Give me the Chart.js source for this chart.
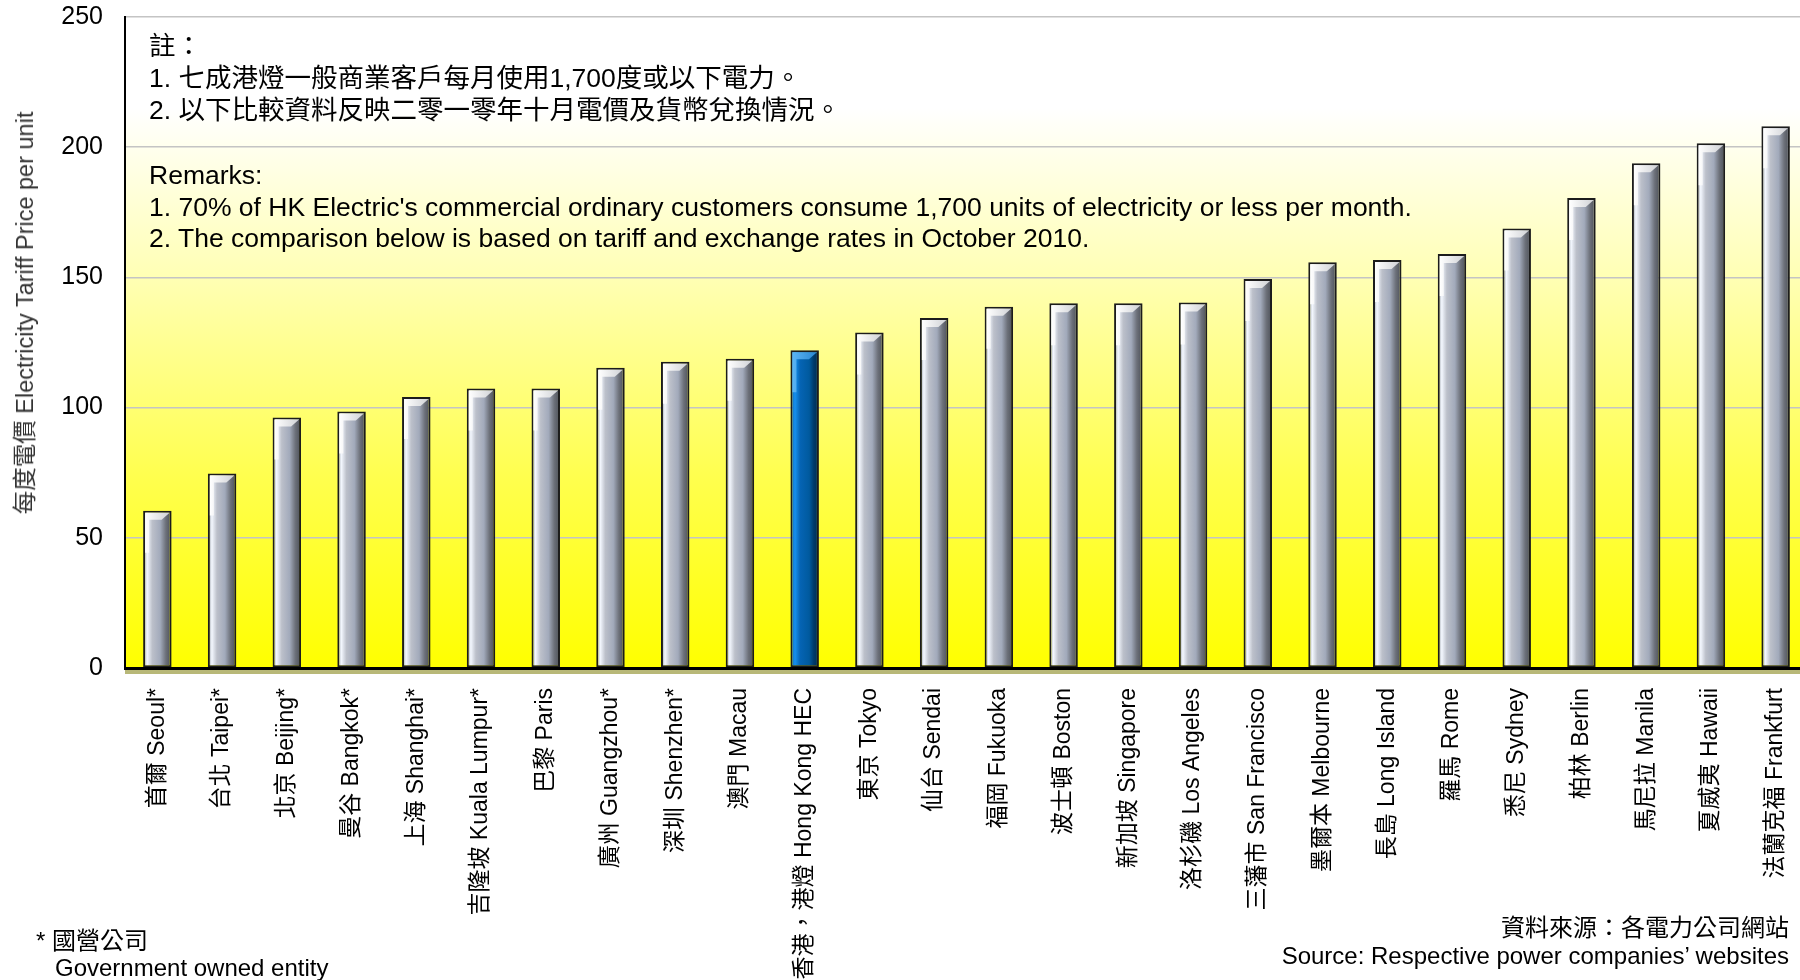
<!DOCTYPE html>
<html>
<head>
<meta charset="utf-8">
<script src="https://cdn.jsdelivr.net/npm/chart.js@4.4.0/dist/chart.umd.min.js"></script>
<style>
  body { margin: 0; width: 1800px; height: 980px; overflow: hidden; position: relative; background: #fff;
         font-family: "Liberation Sans", Arial, "Noto Sans CJK TC", sans-serif; }
  #wrap { position: absolute; left: 0; top: 0; width: 1808px; height: 980px; }
  .txt { position: absolute; white-space: nowrap; line-height: 30px; font-size: 26.5px; color: #000; }
  .foot { font-size: 24px; }
  #yTitle { position: absolute; left: 25px; top: 313px; transform: translate(-50%, -50%) rotate(-90deg);
            white-space: nowrap; font-size: 23.5px; line-height: 28px; color: #333; }
</style>
</head>
<body>
<div id="wrap"><canvas id="tariffChart"></canvas></div>

<div id="yTitle"></div>

<div class="txt" style="left:149px; top:31px;">註：</div>
<div class="txt" style="left:149px; top:63px;">1. 七成港燈一般商業客戶每月使用1,700度或以下電力。</div>
<div class="txt" style="left:149px; top:95px;">2. 以下比較資料反映二零一零年十月電價及貨幣兌換情況。</div>
<div class="txt" style="left:149px; top:160px;">Remarks:</div>
<div class="txt" style="left:149px; top:192px;">1. 70% of HK Electric's commercial ordinary customers consume 1,700 units of electricity or less per month.</div>
<div class="txt" style="left:149px; top:223px;">2. The comparison below is based on tariff and exchange rates in October 2010.</div>

<div class="txt foot" style="left:36px; top:926px;">* 國營公司</div>
<div class="txt foot" style="left:55px; top:953px;">Government owned entity</div>
<div class="txt foot" style="right:11px; top:913px;">資料來源：各電力公司網站</div>
<div class="txt foot" style="right:11px; top:941px;">Source: Respective power companies’ websites</div>

<script>
// chart data
const cities = [
    '首爾 Seoul*', '台北 Taipei*', '北京 Beijing*', '曼谷 Bangkok*', '上海 Shanghai*',
    '吉隆坡 Kuala Lumpur*', '巴黎 Paris', '廣州 Guangzhou*', '深圳 Shenzhen*', '澳門 Macau',
    '香港，港燈 Hong Kong HEC', '東京 Tokyo', '仙台 Sendai', '福岡 Fukuoka', '波士頓 Boston',
    '新加坡 Singapore', '洛杉磯 Los Angeles', '三藩市 San Francisco', '墨爾本 Melbourne', '長島 Long Island',
    '羅馬 Rome', '悉尼 Sydney', '柏林 Berlin', '馬尼拉 Manila', '夏威夷 Hawaii', '法蘭克福 Frankfurt'
];
const tariffs = [
    60.4, 74.7, 96.2, 98.5, 104.1,
    107.3, 107.3, 115.3, 117.6, 118.8,
    122.0, 128.8, 134.4, 138.7, 140.1,
    140.1, 140.4, 149.4, 155.8, 156.7,
    159.0, 168.8, 180.5, 193.8, 201.5, 208.0
];
const highlightCity = '香港，港燈 Hong Kong HEC';
const yTicks = [0, 50, 100, 150, 200, 250];
const yTitle = '每度電價 Electricity Tariff Price per unit';

document.getElementById('yTitle').textContent = yTitle;

const BAR_FRACTION = 0.44;
const greyStops = [[0, '#8a9098'], [0.14, '#f4f8ff'], [0.32, '#bcc0ca'], [0.6, '#a2aabb'], [0.8, '#6c7079'], [1, '#4a4e56']];
const blueStops = [[0, '#0a5fa8'], [0.16, '#1690ee'], [0.34, '#0564b4'], [0.66, '#005a9e'], [0.82, '#003a6a'], [1, '#002a4e']];

function isHighlight(i) {
    return cities[i] === highlightCity;
}

function barFill(context) {
    const chart = context.chart;
    const xs = chart.scales.x;
    if (!chart.chartArea || !xs) return '#a8b0bc';
    const i = context.dataIndex;
    const cx = xs.getPixelForValue(i);
    const w = (xs.getPixelForValue(1) - xs.getPixelForValue(0)) * BAR_FRACTION;
    const g = chart.ctx.createLinearGradient(cx - w / 2, 0, cx + w / 2, 0);
    const stops = isHighlight(i) ? blueStops : greyStops;
    stops.forEach(function(s) { g.addColorStop(s[0], s[1]); });
    return g;
}

// yellow fade behind the bars and the olive floor under the axis
const plotBackground = {
    id: 'plotBackground',
    beforeDraw(chart) {
        const ctx = chart.ctx, a = chart.chartArea;
        const g = ctx.createLinearGradient(0, a.top, 0, a.bottom);
        g.addColorStop(0, '#ffffff');
        g.addColorStop(0.14, '#ffffff');
        g.addColorStop(0.4, '#ffffb4');
        g.addColorStop(0.7, '#ffff50');
        g.addColorStop(1, '#ffff00');
        ctx.save();
        ctx.fillStyle = g;
        ctx.fillRect(a.left, a.top, a.right - a.left, a.bottom - a.top);
        ctx.restore();
    },
    afterDraw(chart) {
        const ctx = chart.ctx, a = chart.chartArea;
        ctx.save();
        ctx.fillStyle = '#b8b878';
        ctx.fillRect(a.left, a.bottom + 2, a.right - a.left, 4);
        ctx.restore();
    }
};

// light bevel on the top of every bar, placed from the bar elements
const barBevel = {
    id: 'barBevel',
    afterDatasetsDraw(chart) {
        const ctx = chart.ctx;
        const meta = chart.getDatasetMeta(0);
        ctx.save();
        meta.data.forEach(function(bar, i) {
            const p = bar.getProps(['x', 'y', 'width'], true);
            const L = p.x - p.width / 2 + 2, R = p.x + p.width / 2 - 2, T = p.y + 2;
            const g = ctx.createLinearGradient(L, 0, R, 0);
            if (isHighlight(i)) {
                g.addColorStop(0, '#5ab4f4'); g.addColorStop(1, '#2a86d0');
            } else {
                g.addColorStop(0, '#ffffff'); g.addColorStop(1, '#d0d2d6');
            }
            ctx.fillStyle = g;
            ctx.beginPath();
            ctx.moveTo(L, T);
            ctx.lineTo(R, T);
            ctx.lineTo(R - 8, T + 7);
            ctx.lineTo(L + 4, T + 7);
            ctx.lineTo(L + 4, T + 40);
            ctx.lineTo(L, T + 40);
            ctx.closePath();
            ctx.fill();
        });
        ctx.restore();
    }
};

const ctx = document.getElementById('tariffChart').getContext('2d');
const tariffChart = new Chart(ctx, {
    type: 'bar',
    data: {
        labels: cities,
        datasets: [{
            data: tariffs,
            backgroundColor: barFill,
            borderColor: '#1c1c1c',
            borderWidth: 2,
            borderSkipped: false,
            categoryPercentage: 1,
            barPercentage: BAR_FRACTION
        }]
    },
    options: {
        responsive: true,
        maintainAspectRatio: false,
        animation: false,
        layout: { padding: { left: 0, top: 17, right: 0, bottom: 0 } },
        plugins: {
            legend: { display: false },
            tooltip: { enabled: false }
        },
        scales: {
            x: {
                ticks: {
                    minRotation: 90, maxRotation: 90, autoSkip: false, padding: 20,
                    color: '#000',
                    font: { size: 23, family: '"Liberation Sans", Arial, "Noto Sans CJK TC", sans-serif' }
                },
                grid: { display: false, drawTicks: false },
                border: { color: '#000', width: 3 },
                afterFit(scale) {
                    scale.height = 312;
                    scale.paddingLeft = 0;
                    scale.paddingRight = 0;
                }
            },
            y: {
                min: 0,
                max: 250,
                afterBuildTicks(scale) {
                    scale.ticks = yTicks.map(function(v) { return { value: v }; });
                },
                ticks: {
                    padding: 22, color: '#000',
                    font: { size: 25, family: '"Liberation Sans", Arial, sans-serif' }
                },
                grid: { color: '#c4c4c4', lineWidth: 1.5, drawTicks: false },
                border: { color: '#000', width: 2 },
                afterFit(scale) {
                    scale.width = 125;
                    scale.paddingTop = 0;
                    scale.paddingBottom = 0;
                }
            }
        }
    },
    plugins: [plotBackground, barBevel]
});
</script>
</body>
</html>
